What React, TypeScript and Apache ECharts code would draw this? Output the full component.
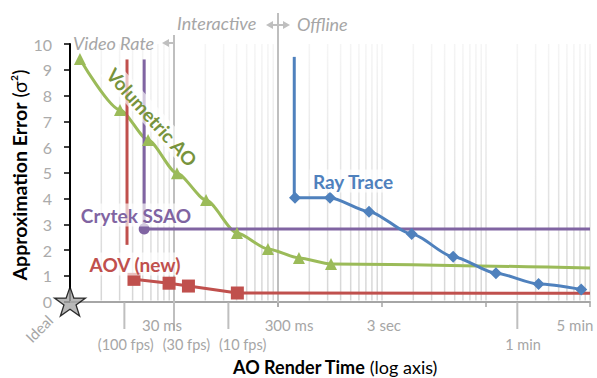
import React, { useEffect, useRef } from 'react';
import * as echarts from 'echarts';

// ---- data (time in seconds, approximation error) ----
const volumetricTime = [0.00374, 0.00908, 0.0169, 0.032, 0.061, 0.121, 0.24, 0.477, 0.97, 300];
const volumetricError = [9.42, 7.44, 6.27, 4.98, 3.94, 2.66, 2.04, 1.69, 1.46, 1.3];

const aovTime = [0.01237, 0.0269, 0.0413, 0.122, 300];
const aovError = [0.86, 0.71, 0.6, 0.33, 0.32];
const aovPrecomputeTime = [0.0106, 0.0106];
const aovPrecomputeError = [9.4, 2.2];

const crytekTime = [0.0155, 300];
const crytekError = [2.82, 2.82];
const crytekPrecomputeTime = [0.0155, 0.0155];
const crytekPrecomputeError = [9.4, 2.82];

const rayTime = [0.437, 0.949, 2.25, 5.79, 14.5, 37.4, 96, 247];
const rayError = [4.03, 4.03, 3.49, 2.62, 1.74, 1.1, 0.68, 0.47];
const rayPrecomputeTime = [0.43, 0.43];
const rayPrecomputeError = [9.5, 4.03];

const idealTime = [0.003];
const idealError = [0];

// axis ranges
const xMin = 0.003;
const xMax = 300;
const yMin = 0;
const yMax = 10;
const yInterval = 1;

// log-axis minor gridlines: decade starts x multiples
const gridDecades = [0.003, 0.03, 0.3, 3, 30];
const gridMultiples = [2, 3, 4, 5, 6, 7, 8, 9, 10];

// time annotations under the axis
const upperTimeLabels = ['30 ms', '300 ms', '3 sec', '5 min'];
const upperTimeAnchors = [0.023, 0.383, 3.13, 215];
const lowerTimeLabels = ['(100 fps)', '(30 fps)', '(10 fps)', '1 min'];
const lowerTimeAnchors = [0.0103, 0.0395, 0.137, 68];
const longTickTimes = [0.01, 0.1, 60];
const shortTickTimes = [0.3, 3, 30, 300];
const videoRateTime = 0.03;
const interactiveTime = 0.3;

const FONT = 'Lato, "Open Sans", sans-serif';
const GREEN = '#9bbb59';
const RED = '#c0504d';
const BLUE = '#4f81bd';
const PURPLE = '#8064a2';
const GRAY = '#a6a6a6';
const MARK = '#bfbfbf';
const LABEL_BG = 'rgba(255,255,255,0.65)';

const STAR =
  'path://M50,2 L61.8,36.2 L97.6,36.2 L68.6,57.4 L79.6,91.6 L50,70.4 L20.4,91.6 L31.4,57.4 L2.4,36.2 L38.2,36.2 Z';

function pairs(xs: number[], ys: number[]) {
  return xs.map((x, i) => [x, ys[i]]);
}

export default function App() {
  const ref = useRef<HTMLDivElement>(null);

  useEffect(() => {
    const chart = echarts.init(ref.current!, undefined, { renderer: 'svg' });

    const volData: any[] = pairs(volumetricTime, volumetricError);
    volData[volData.length - 1] = { value: volData[volData.length - 1], symbol: 'none' };
    const aovData: any[] = pairs(aovTime, aovError);
    aovData[aovData.length - 1] = { value: aovData[aovData.length - 1], symbol: 'none' };
    const cryData: any[] = pairs(crytekTime, crytekError);
    cryData[cryData.length - 1] = { value: cryData[cryData.length - 1], symbol: 'none' };

    const lineBase = (color: string) => ({
      type: 'line',
      clip: false,
      lineStyle: { color, width: 3 },
      itemStyle: { color },
      emphasis: { disabled: true },
      z: 3,
    });

    chart.setOption({
      animation: false,
      textStyle: { fontFamily: FONT },
      grid: { left: 70, right: 7, top: 44, bottom: 76.5, containLabel: false },
      xAxis: {
        type: 'log',
        logBase: 10,
        min: xMin,
        max: xMax,
        axisLine: { show: true, onZero: false, lineStyle: { color: GRAY, width: 2 } },
        axisTick: { show: false },
        axisLabel: { show: false },
        splitLine: { show: false },
      },
      yAxis: {
        type: 'value',
        min: yMin,
        max: yMax,
        interval: yInterval,
        axisLine: { show: true, onZero: false, lineStyle: { color: '#000', width: 2 } },
        axisTick: { show: true, length: 6, lineStyle: { color: '#000', width: 1.5 } },
        axisLabel: { color: '#ababab', fontSize: 16, margin: 18, fontFamily: FONT },
        splitLine: { show: false },
      },
      series: [
        {
          ...lineBase(GREEN),
          name: 'Volumetric AO',
          data: volData,
          symbol: 'triangle',
          symbolSize: 12,
          smooth: 0.25,
          smoothMonotone: 'x',
        },
        {
          ...lineBase(RED),
          name: 'AOV precompute',
          data: pairs(aovPrecomputeTime, aovPrecomputeError),
          symbol: 'none',
        },
        {
          ...lineBase(RED),
          name: 'AOV (new)',
          data: aovData,
          symbol: 'rect',
          symbolSize: 13,
        },
        {
          ...lineBase(PURPLE),
          name: 'Crytek precompute',
          data: pairs(crytekPrecomputeTime, crytekPrecomputeError),
          symbol: 'none',
        },
        {
          ...lineBase(PURPLE),
          name: 'Crytek SSAO',
          data: cryData,
          symbol: 'circle',
          symbolSize: 11,
        },
        {
          ...lineBase(BLUE),
          name: 'Ray precompute',
          data: pairs(rayPrecomputeTime, rayPrecomputeError),
          symbol: 'none',
        },
        {
          ...lineBase(BLUE),
          name: 'Ray Trace',
          data: pairs(rayTime, rayError),
          symbol: 'diamond',
          symbolSize: 12,
          smooth: 0.25,
          smoothMonotone: 'x',
        },
        {
          type: 'scatter',
          name: 'Ideal',
          clip: false,
          data: pairs(idealTime, idealError),
          symbol: STAR,
          symbolSize: 31,
          symbolKeepAspect: true,
          itemStyle: { color: GRAY, borderColor: '#000', borderWidth: 1.3 },
          z: 10,
        },
      ],
    });

    const X = (t: number) => chart.convertToPixel({ xAxisIndex: 0 }, t) as number;
    const Y = (v: number) => chart.convertToPixel({ yAxisIndex: 0 }, v) as number;
    const top = Y(yMax);
    const base = Y(yMin);

    const gridGrad = {
      type: 'linear',
      x: 0,
      y: top,
      x2: 0,
      y2: base,
      global: true,
      colorStops: [
        { offset: 0, color: '#f5f5f5' },
        { offset: 1, color: '#d6d6d6' },
      ],
    };

    const graphics: any[] = [];
    gridDecades.forEach((d) =>
      gridMultiples.forEach((m) => {
        const gx = X(d * m);
        graphics.push({
          type: 'line',
          z: 0,
          silent: true,
          shape: { x1: gx, y1: top, x2: gx, y2: base - 1 },
          style: { stroke: gridGrad, lineWidth: 1.5 },
        });
      })
    );

    const vline = (t: number, y1: number, y2: number, w = 2, color = MARK) => ({
      type: 'line',
      z: 1,
      silent: true,
      shape: { x1: X(t), y1, x2: X(t), y2 },
      style: { stroke: color, lineWidth: w },
    });

    graphics.push(vline(videoRateTime, 35, 330));
    graphics.push(vline(interactiveTime, 13, 307));
    longTickTimes.forEach((t) => graphics.push(vline(t, base + 1, 329)));
    shortTickTimes.forEach((t) => graphics.push(vline(t, base + 1, 307, 1.5, GRAY)));

    // arrows
    const vx = X(videoRateTime);
    graphics.push({
      type: 'polygon', z: 2, silent: true,
      shape: { points: [[vx - 12, 43], [vx - 5, 39], [vx - 5, 47]] },
      style: { fill: MARK },
    });
    graphics.push({
      type: 'line', z: 2, silent: true,
      shape: { x1: vx - 6, y1: 43, x2: vx, y2: 43 },
      style: { stroke: MARK, lineWidth: 2 },
    });
    const ix = X(interactiveTime);
    graphics.push({
      type: 'polygon', z: 2, silent: true,
      shape: { points: [[ix - 12, 25], [ix - 5, 21], [ix - 5, 29]] },
      style: { fill: MARK },
    });
    graphics.push({
      type: 'polygon', z: 2, silent: true,
      shape: { points: [[ix + 12, 25], [ix + 5, 21], [ix + 5, 29]] },
      style: { fill: MARK },
    });
    graphics.push({
      type: 'line', z: 2, silent: true,
      shape: { x1: ix - 6, y1: 25, x2: ix + 6, y2: 25 },
      style: { stroke: MARK, lineWidth: 2 },
    });

    const text = (
      t: string,
      x: number,
      y: number,
      font: string,
      fill: string,
      opts: any = {}
    ) => ({
      type: 'text',
      z: opts.z ?? 20,
      silent: true,
      x,
      y,
      rotation: opts.rotation ?? 0,
      style: {
        text: t,
        font,
        fill,
        align: opts.align ?? 'center',
        textAlign: opts.align ?? 'center',
        verticalAlign: 'middle',
        textVerticalAlign: 'middle',
        backgroundColor: opts.bg,
        padding: opts.padding,
        rich: opts.rich,
      },
    });

    // region captions
    graphics.push(text('Video Rate', 73, 43, `italic 18px ${FONT}`, GRAY, { align: 'left' }));
    graphics.push(text('Interactive', 177, 23, `italic 18px ${FONT}`, GRAY, { align: 'left' }));
    graphics.push(text('Offline', 297, 24, `italic 18px ${FONT}`, GRAY, { align: 'left' }));

    // time labels
    upperTimeLabels.forEach((s, i) =>
      graphics.push(text(s, X(upperTimeAnchors[i]), 325, `15px ${FONT}`, GRAY))
    );
    lowerTimeLabels.forEach((s, i) =>
      graphics.push(text(s, X(lowerTimeAnchors[i]), 344, `14.5px ${FONT}`, GRAY))
    );

    graphics.push(
      text('Ideal', X(idealTime[0]) - 31, base + 27, `15px ${FONT}`, GRAY, { rotation: Math.PI / 4 })
    );

    // series labels
    const labelFont = `bold 19px ${FONT}`;
    graphics.push(
      text('Volumetric AO', 152, 117, labelFont, '#77933c', {
        rotation: (-48 * Math.PI) / 180,
        bg: LABEL_BG,
        padding: [1, 3],
        z: 30,
      })
    );
    graphics.push(text('Crytek SSAO', 136, 215, labelFont, PURPLE, { bg: LABEL_BG, padding: [2, 3], z: 30 }));
    graphics.push(text('AOV (new)', 135, 264, labelFont, RED, { bg: LABEL_BG, padding: [2, 3], z: 30 }));
    graphics.push(text('Ray Trace', 353, 181, labelFont, BLUE, { bg: LABEL_BG, padding: [2, 3], z: 30 }));

    // axis titles
    graphics.push(
      text('{b|Approximation Error} {n|(σ²)}', 19, 175, `19.5px ${FONT}`, '#000', {
        rotation: Math.PI / 2,
        rich: {
          b: { font: `bold 19.5px ${FONT}`, fill: '#000' },
          n: { font: `19.5px ${FONT}`, fill: '#000' },
        },
      })
    );
    graphics.push(
      text('{b|AO Render Time} {n|(log axis)}', 335, 367, `18px ${FONT}`, '#000', {
        rich: {
          b: { font: `bold 18px ${FONT}`, fill: '#000' },
          n: { font: `18px ${FONT}`, fill: '#000' },
        },
      })
    );

    chart.setOption({ graphic: { elements: graphics } });

    return () => chart.dispose();
  }, []);

  return (
    <div
      ref={ref}
      style={{ position: 'absolute', left: 0, top: 0, width: 597, height: 378, background: '#fff' }}
    />
  );
}
